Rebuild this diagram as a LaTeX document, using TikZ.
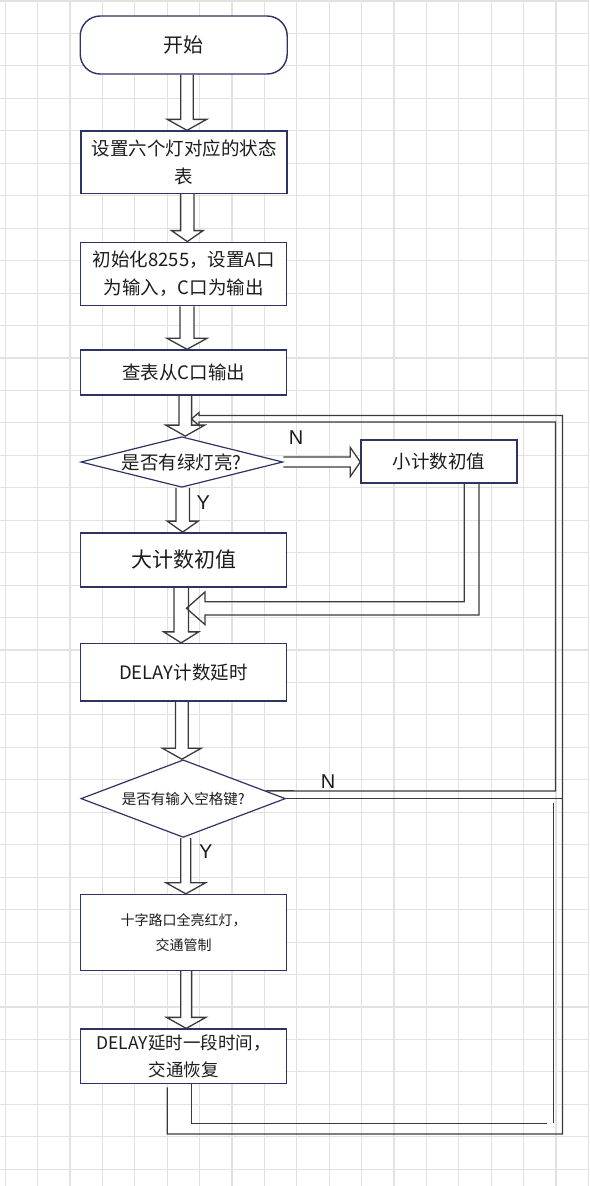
\documentclass[tikz,border=0pt]{standalone}
\usepackage{fontspec}
\setmainfont{Noto Sans CJK SC}
\newfontfamily\yesnofont{Liberation Sans}
\usetikzlibrary{shapes.geometric,calc}
\pgfdeclarelayer{background}
\pgfsetlayers{background,main}

\definecolor{boxline}{RGB}{46,52,98}
\definecolor{arrowline}{RGB}{58,58,58}
\definecolor{gridgray}{RGB}{226,226,226}
\definecolor{txt}{RGB}{28,28,28}

\tikzset{
  gridline/.style={draw=gridgray, line width=1.1pt},
  box/.style={draw=boxline, fill=white, line width=1.4pt, minimum width=206pt,
              inner sep=0pt, align=center, text=txt, font=\fontsize{18.5}{28}\selectfont},
  startbox/.style={box, rounded corners=20pt, minimum width=207pt, minimum height=58pt,
              font=\fontsize{20}{24}\selectfont},
  decision/.style={diamond, draw=boxline, fill=white, line width=1.2pt, inner sep=0pt,
              text=txt, minimum width=203pt},
  hollow/.style={draw=arrowline, fill=white, line width=1.3pt, line join=miter},
  loopline/.style={draw=arrowline, line width=1.3pt},
  yn/.style={font=\yesnofont\fontsize{20}{20}\selectfont, text=txt, inner sep=0pt},
}

% hollow block arrow going down: xshift, shaft half width, head half width, from, to
\newcommand{\hollowdown}[5]{%
  \draw[hollow] let \p1=([xshift=#1pt]#4), \p2=(#5) in
    (\x1-#2pt,\y1) -- (\x1-#2pt,\y2+11pt) -- (\x1-#3pt,\y2+11pt) -- (\x1,\y2)
    -- (\x1+#3pt,\y2+11pt) -- (\x1+#2pt,\y2+11pt) -- (\x1+#2pt,\y1);}
% hollow block arrow going right: shaft half width, head half width, from, to
\newcommand{\hollowright}[4]{%
  \draw[hollow] let \p1=(#3), \p2=(#4) in
    (\x1,\y1+#1pt) -- (\x2-10pt,\y1+#1pt) -- (\x2-10pt,\y1+#2pt) -- (\x2,\y1)
    -- (\x2-10pt,\y1-#2pt) -- (\x2-10pt,\y1-#1pt) -- (\x1,\y1-#1pt);}

\begin{document}
\begin{tikzpicture}[x=1pt,y=-1pt]
\useasboundingbox (0,0) rectangle (589,1186);

 % flow chart boxes
 \node[startbox] (start) at (183.7,45) {开始};
 \node[box, minimum height=62.3pt] (setup) at (184,162.2) {设置六个灯对应的状态\\表};
 \node[box, minimum height=63.4pt] (init) at (183.7,274) {初始化8255，设置A口\\为输入，C口为输出};
 \node[box, minimum height=45pt] (lookup) at (183.7,372.5) {查表从C口输出};
 \node[decision, aspect=4, minimum width=202pt, minimum height=50.6pt,
       font=\fontsize{18.5}{20}\selectfont] (green) at (181.8,462) {是否有绿灯亮?};
 \node[box, minimum width=156pt, minimum height=43pt] (small) at (439,461.5) {小计数初值};
 \node[box, minimum height=54pt, font=\fontsize{21}{24}\selectfont] (big) at (183.5,559.8) {大计数初值};
 \node[box, minimum height=57.5pt] (delay) at (183.5,672.3) {DELAY计数延时};
 \node[decision, aspect=2.6, minimum width=204.5pt, minimum height=77.6pt,
       font=\fontsize{14.5}{16}\selectfont] (space) at (183.2,798.6) {是否有输入空格键?};
 \node[box, minimum height=76pt, font=\fontsize{14}{24.6}\selectfont] (cross) at (183.5,932.5) {十字路口全亮红灯，\\交通管制};
 \node[box, minimum height=54.5pt, font=\fontsize{17.5}{27}\selectfont] (wait) at (183.5,1056.3) {DELAY延时一段时间，\\交通恢复};

 % Y / N labels
 \node[yn] (n1) at (296.2,438) {N};
 \node[yn] (y1) at (203.4,503) {Y};
 \node[yn] (n2) at (328.2,781.5) {N};
 \node[yn] (y2) at (205.8,852) {Y};

 % loop corners
 \coordinate (outB) at (562.5,1134);
 \coordinate (outC) at (562.5,415.5);
 \coordinate (inC) at (555.5,422);
 \coordinate (inD) at (555.5,791);
 \coordinate (inB) at (546.7,1123.3);
 \coordinate (inE) at (553.3,802.7);
 \coordinate (loopTip) at (191.5,419);
 \coordinate (join) at (186.5,608.3);

\begin{pgfonlayer}{background}
 % grid
 \foreach \gx in {0,...,18} \draw[gridline] (5.2+32.4*\gx,0) -- (5.2+32.4*\gx,1186);
 \foreach \gy in {0,...,36} \draw[gridline] (0,1+32.45*\gy) -- (589,1+32.45*\gy);

 % main arrows
 \hollowdown{3.3}{6.3}{19.7}{start.south}{setup.north}
 \hollowdown{3.3}{6.7}{15.8}{setup.south}{init.north}
 \hollowdown{3.3}{7}{20}{init.south}{lookup.north}
 \hollowdown{1.6}{6.3}{19.5}{lookup.south}{green.north}
 \hollowdown{0.9}{6.7}{15.5}{green.south}{big.north}
 \hollowdown{-2.3}{7.2}{17.5}{big.south}{delay.north}
 \hollowdown{-1.7}{6.4}{19.5}{delay.south}{space.north}
 \hollowdown{2.6}{5}{19.7}{space.south}{cross.north}
 \hollowdown{2.7}{5.4}{19.7}{cross.south}{wait.north}
 \hollowright{5}{14.5}{green.east}{small.west}

 % small count joins the shaft below big count
 \draw[hollow, fill=none] let \p1=([xshift=32.6pt]small.south), \p2=(join) in
    (\x1-7.4pt,\y1) -- (\x1-7.4pt,\y2+6.6pt) -- (\x2+18.5pt,\y2+6.6pt) -- (\x2+18.5pt,\y2+16.3pt)
    -- (\x2,\y2) -- (\x2+18.5pt,\y2-16.3pt) -- (\x2+18.5pt,\y2-6.6pt) -- (\x1+7.4pt,\y2-6.6pt)
    -- (\x1+7.4pt,\y1);

 % loop back to the table lookup
 \draw[loopline] ([xshift=-16.2pt,yshift=-3pt]wait.south) |- (outB) -- (outC) -- (199,415.5)
    -- (199,412.5) -- (loopTip) -- (199,425.5) -- (199,422) -- (inC) -- (inD)
    -- ($(space.north)!0.804!(space.east)$);
 \draw[loopline] ([xshift=8.2pt]wait.south) |- (inB);
 \draw[loopline] (inE) -- (inE |- inB);
 \draw[loopline] (space.east) -- (space.east -| outB);
\end{pgfonlayer}

\end{tikzpicture}
\end{document}
